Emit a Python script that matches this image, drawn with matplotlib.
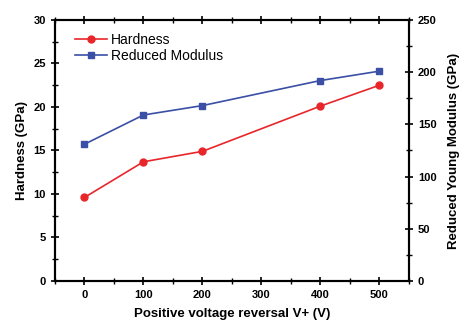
import matplotlib
matplotlib.use("Agg")
import matplotlib.pyplot as plt
from matplotlib.ticker import MultipleLocator

plt.rcParams['font.family'] = ['Liberation Sans', 'DejaVu Sans']

voltage = [0, 100, 200, 400, 500]
hardness = [9.6, 13.7, 14.9, 20.1, 22.5]
modulus = [131, 159, 168, 192, 201]

fig = plt.figure(figsize=(4.62, 3.2), dpi=100)
ax = fig.add_axes([0.119, 0.122, 0.766, 0.8155])
ax2 = ax.twinx()

l1, = ax.plot(voltage, hardness, '-o', color='#e8262a', markersize=5, linewidth=1.2, label='Hardness')
l2, = ax2.plot(voltage, modulus, '-s', color='#3a4fa5', markersize=4.5, linewidth=1.2, label='Reduced Modulus')

ax.set_xlim(-50, 550)
ax.set_ylim(0, 30)
ax2.set_ylim(0, 250)
ax.xaxis.set_major_locator(MultipleLocator(100))
ax.xaxis.set_minor_locator(MultipleLocator(50))
ax.yaxis.set_major_locator(MultipleLocator(5))
ax.yaxis.set_minor_locator(MultipleLocator(2.5))
ax2.yaxis.set_major_locator(MultipleLocator(50))
ax2.yaxis.set_minor_locator(MultipleLocator(25))

for a in (ax, ax2):
    for s in a.spines.values():
        s.set_linewidth(1.5)
ax.tick_params(which='major', direction='inout', length=6, width=1.2, top=True, labelsize=8)
ax.tick_params(which='minor', direction='inout', length=4, width=1.0, top=True)
ax.tick_params(axis='y', which='both', right=False)
ax2.tick_params(which='major', direction='inout', length=6, width=1.2, labelsize=8)
ax2.tick_params(which='minor', direction='inout', length=4, width=1.0)
for lab in ax.get_xticklabels() + ax.get_yticklabels() + ax2.get_yticklabels():
    lab.set_fontweight('bold')

ax.set_xlabel('Positive voltage reversal V+ (V)', fontsize=9.5, fontweight='bold', labelpad=6)
ax.set_ylabel('Hardness (GPa)', fontsize=9.5, fontweight='bold')
ax2.set_ylabel('Reduced Young Modulus (GPa)', fontsize=9.5, fontweight='bold', labelpad=8)

ax.legend(handles=[l1, l2], loc='upper left', frameon=False, fontsize=10,
          handlelength=2.3, borderaxespad=0.5, labelspacing=0.15, handletextpad=0.3,
          bbox_to_anchor=(0.02, 1.0))

fig.savefig('out.png', dpi=100)
